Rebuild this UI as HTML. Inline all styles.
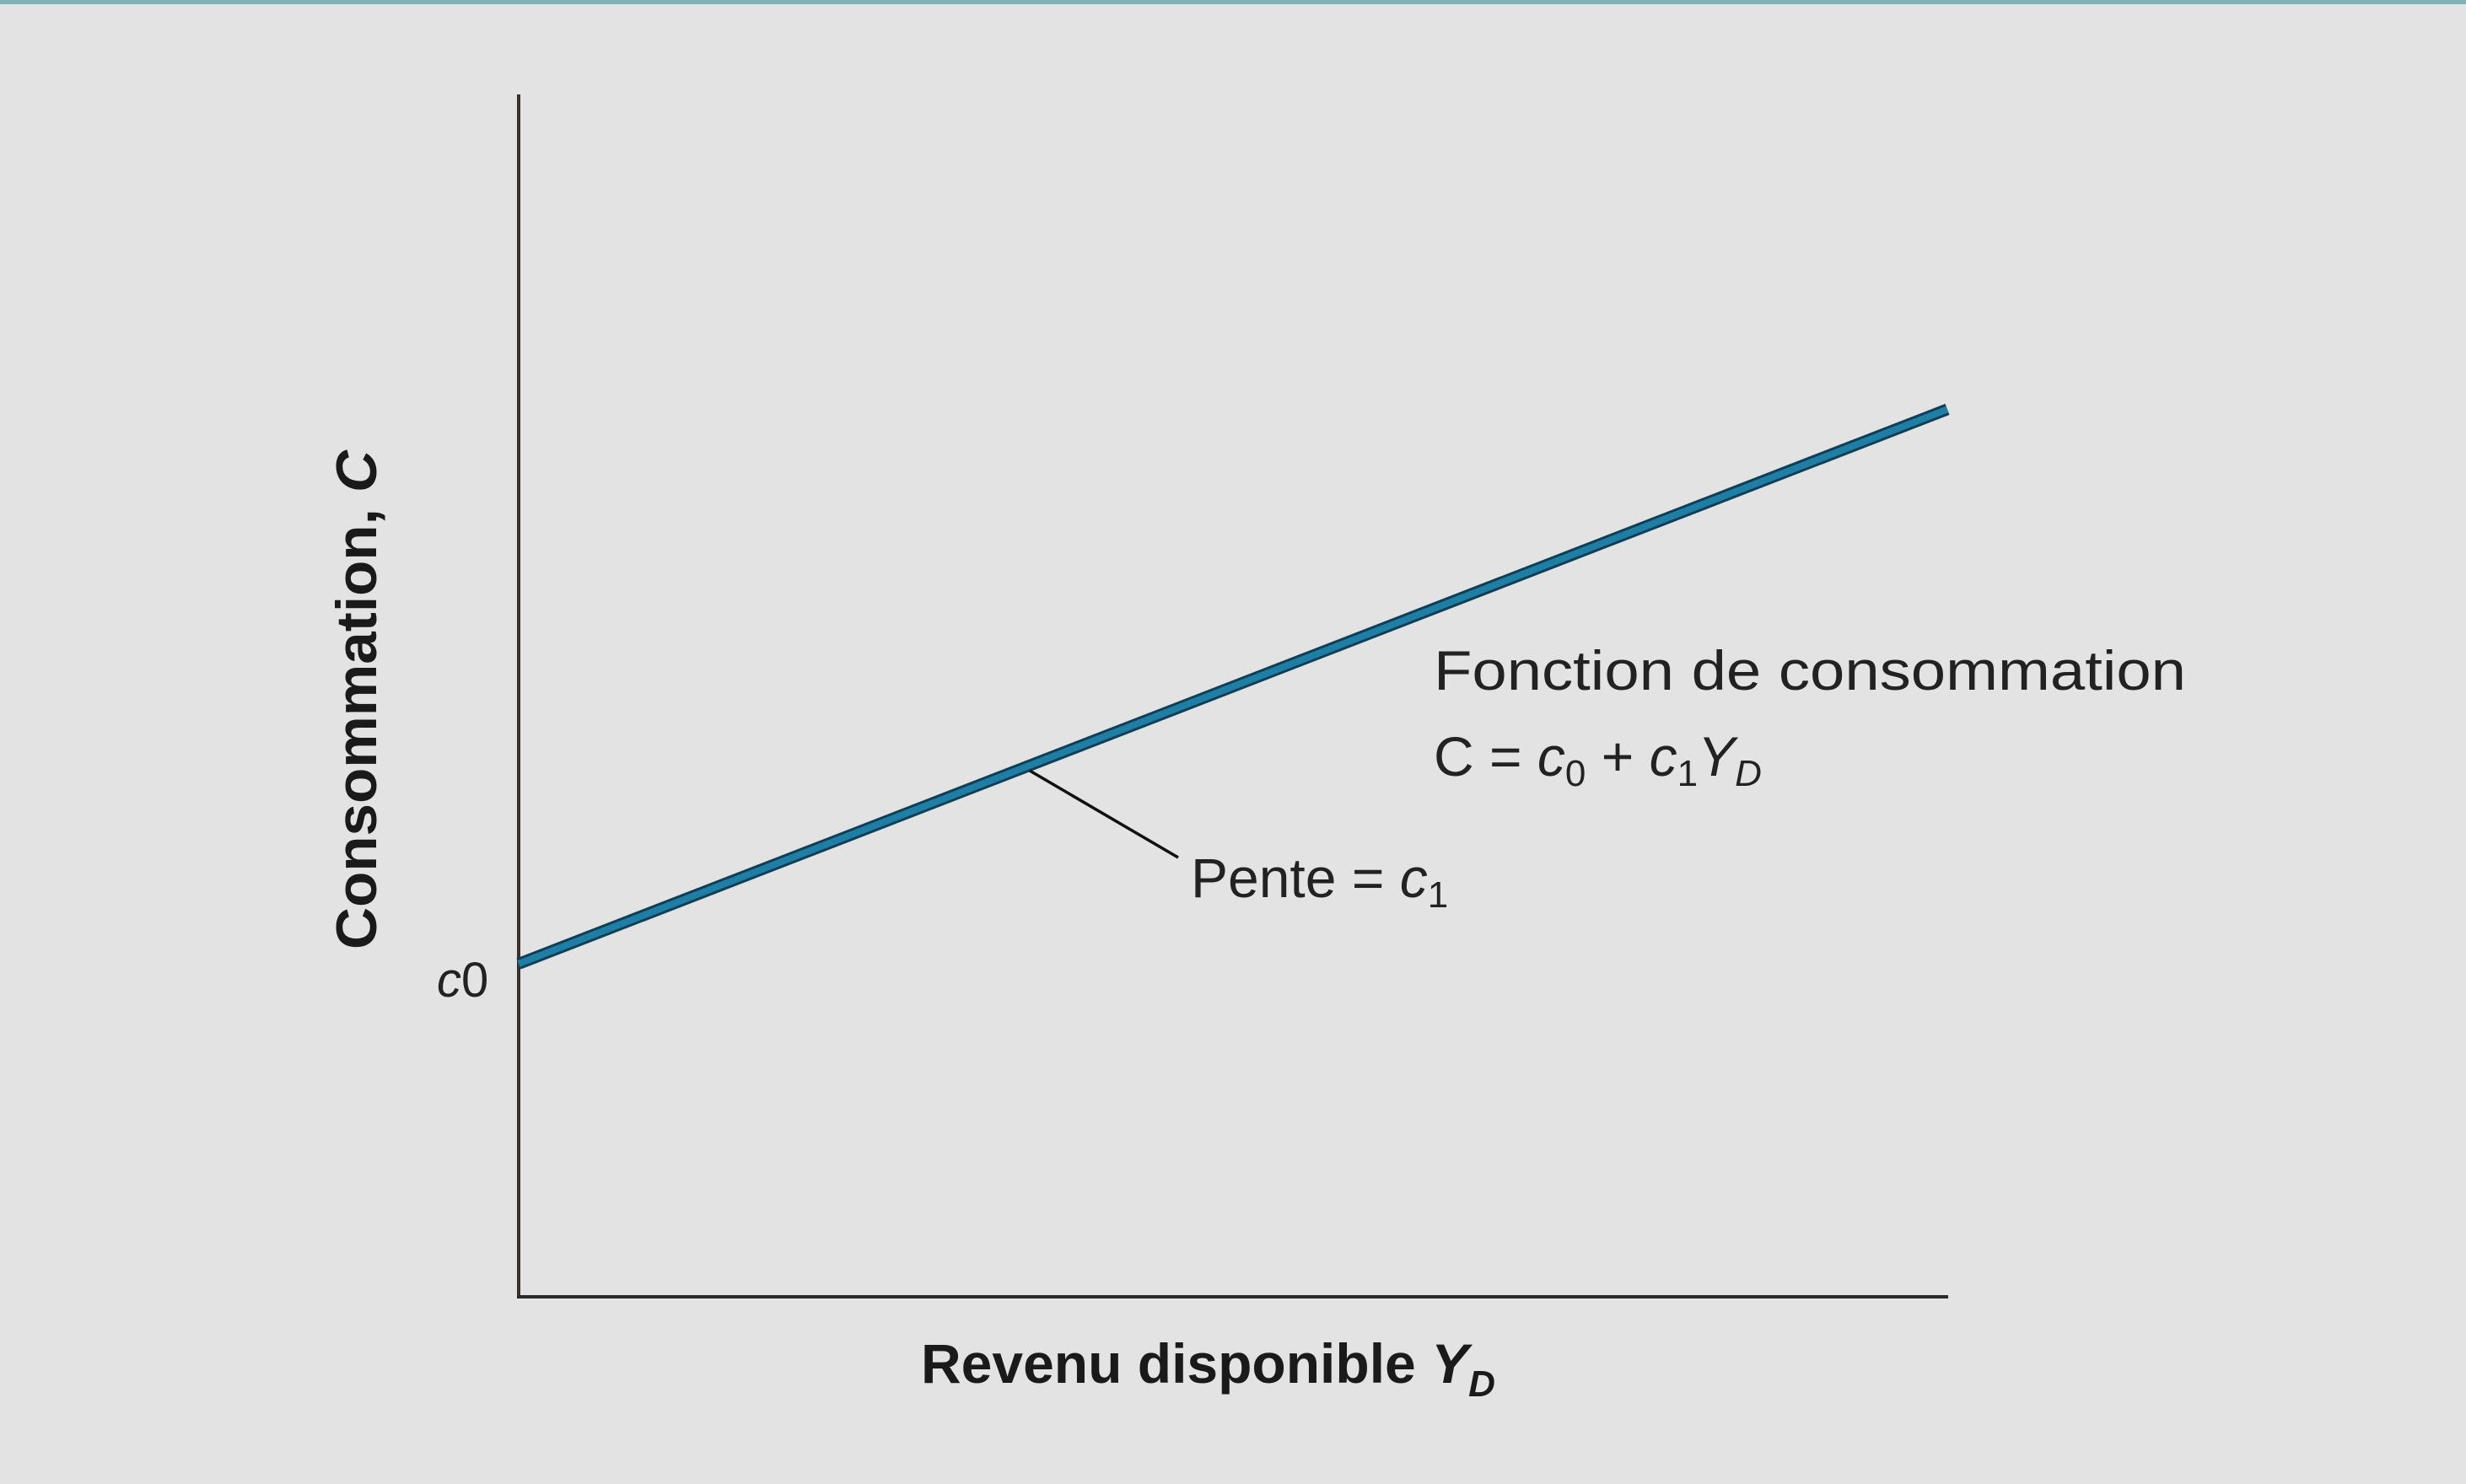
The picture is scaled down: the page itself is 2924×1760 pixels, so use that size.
<!DOCTYPE html>
<html><head><meta charset="utf-8"><style>
html,body{margin:0;padding:0;background:#e4e4e4;}
svg{display:block;}
</style></head><body>
<svg width="2924" height="1760" viewBox="0 0 2924 1760" xmlns="http://www.w3.org/2000/svg">
<rect x="0" y="0" width="2924" height="1760" fill="#e3e3e3"/>
<rect x="0" y="0" width="2924" height="5" fill="#7fb3b8"/>
<line x1="615" y1="112" x2="615" y2="1540" stroke="#3a302c" stroke-width="4"/>
<line x1="613" y1="1538" x2="2310" y2="1538" stroke="#2a2a2a" stroke-width="4"/>
<g id="plot"></g>
<line x1="1221" y1="914" x2="1397" y2="1017" stroke="#111" stroke-width="3.5"/>
<text x="0" y="0" transform="translate(446,830) rotate(-90)" text-anchor="middle" font-family="Liberation Sans, sans-serif" font-weight="bold" font-size="68" fill="#1a1a1a" textLength="592" lengthAdjust="spacingAndGlyphs">Consommation, <tspan font-style="italic">C</tspan></text>
<text x="1092" y="1640" font-family="Liberation Sans, sans-serif" font-weight="bold" font-size="66" fill="#1a1a1a">Revenu disponible <tspan font-style="italic">Y</tspan><tspan font-style="italic" font-size="44" dy="16">D</tspan></text>
<text x="518" y="1182" font-family="Liberation Sans, sans-serif" font-size="58" fill="#222"><tspan font-style="italic">c</tspan>0</text>
<text x="1700" y="818" font-family="Liberation Sans, sans-serif" font-size="66" fill="#222" textLength="892" lengthAdjust="spacingAndGlyphs">Fonction de consommation</text>
<text x="1700" y="920" font-family="Liberation Sans, sans-serif" font-size="66" fill="#222">C = <tspan font-style="italic">c</tspan><tspan font-size="44" dy="12">0</tspan><tspan dy="-12"> + </tspan><tspan font-style="italic">c</tspan><tspan font-size="44" dy="12">1</tspan><tspan font-style="italic" dy="-12">Y</tspan><tspan font-style="italic" font-size="44" dy="12">D</tspan></text>
<text x="1412" y="1064" font-family="Liberation Sans, sans-serif" font-size="66" fill="#222">Pente = <tspan font-style="italic">c</tspan><tspan font-size="44" dy="12">1</tspan></text>
</svg>
<script>
const incomes = [0, 100];
const consumption = [0, 58.5];
const xScale = v => 615 + v / 100 * 1694;
const yScale = v => 1143 - v / 100 * 1124;
const g = document.getElementById('plot');
const ns = 'http://www.w3.org/2000/svg';
const pts = incomes.map((x, i) => xScale(x) + ',' + yScale(consumption[i])).join(' ');
const under = document.createElementNS(ns, 'polyline');
under.setAttribute('points', pts);
under.setAttribute('fill', 'none');
under.setAttribute('stroke', '#0f3f57');
under.setAttribute('stroke-width', '14');


g.appendChild(under);
const line = document.createElementNS(ns, 'polyline');
line.setAttribute('points', pts);
line.setAttribute('fill', 'none');
line.setAttribute('stroke', '#1f7ea3');
line.setAttribute('stroke-width', '8');


g.appendChild(line);
</script>
</body></html>
